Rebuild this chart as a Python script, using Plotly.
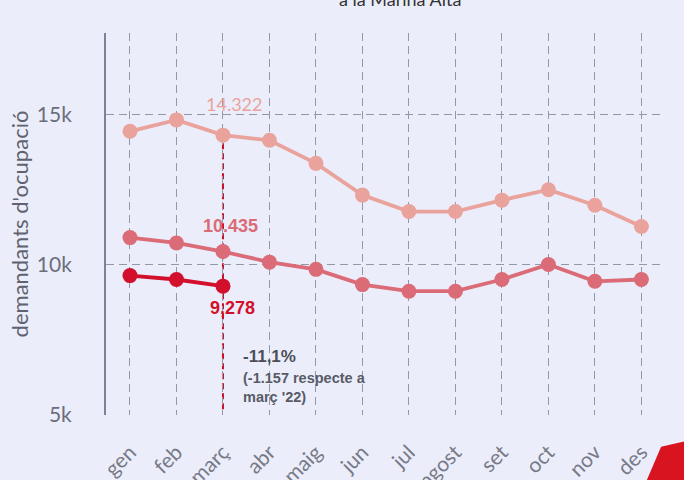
import plotly.graph_objects as go

months = ["gen", "feb", "març", "abr", "maig", "jun", "jul", "agost", "set", "oct", "nov", "des"]
y2021 = [14450, 14830, 14322, 14150, 13380, 12320, 11770, 11770, 12150, 12500, 11980, 11270]
y2022 = [10900, 10720, 10435, 10080, 9840, 9330, 9110, 9110, 9500, 10000, 9440, 9500]
y2023 = [9630, 9500, 9278]
y_ticks = [5000, 10000, 15000]
y_tick_labels = ["5k", "10k", "15k"]

c21 = "#eaa39c"
c22 = "#db6b77"
c23 = "#d2102b"
bg = "#ebedfa"
grid = "#9398a8"

fig = go.Figure()
for name, ys, col in [("2021", y2021, c21), ("2022", y2022, c22), ("2023", y2023, c23)]:
    fig.add_trace(go.Scatter(
        x=months[:len(ys)], y=ys, mode="lines+markers", name=name,
        line=dict(color=col, width=3.8),
        marker=dict(color=col, size=15),
        hoverinfo="skip",
    ))

# vertical dashed marker line at març
fig.add_shape(type="line", xref="x", yref="y", x0=2, x1=2, y0=5170, y1=y2021[2],
              line=dict(color="#c80e2a", width=2, dash="6px,4px"), layer="below")

fig.add_annotation(x=2, y=y2021[2], text="14.322", showarrow=False, xshift=11, yshift=31,
                   font=dict(family="Lato", size=18, color=c21))
fig.add_annotation(x=2, y=y2022[2], text="<b>10.435</b>", showarrow=False, xshift=8, yshift=26,
                   font=dict(family="Arial", size=18, color=c22))
fig.add_annotation(x=2, y=y2023[2], text="<b>9,278</b>", showarrow=False, xshift=10, yshift=-22,
                   font=dict(family="Arial", size=18, color=c23))
fig.add_annotation(x=2, y=6930, text="<b>-11,1%</b>", showarrow=False, xanchor="left", yanchor="middle",
                   xshift=18, font=dict(family="Arial", size=17, color="#4b4d57"))
fig.add_annotation(x=2, y=5910, text="<b>(-1.157 respecte a<br>març '22)</b>", showarrow=False,
                   xanchor="left", yanchor="middle", align="left", xshift=18,
                   font=dict(family="Arial", size=14.5, color="#585b66"))

# red decoration bottom right
fig.add_shape(type="path", xref="paper", yref="paper",
              path="M 0.9675 -0.2 L 1.002 -0.083 L 1.06 -0.064 L 1.06 -0.2 Z",
              fillcolor="#d7141f", line=dict(width=0))

fig.update_layout(
    width=684, height=480,
    margin=dict(l=106, r=24, t=33, b=65),
    paper_bgcolor=bg, plot_bgcolor=bg,
    showlegend=False,
    font=dict(family="Lato", color="#6b6e7a"),
    title=dict(text="a la Marina Alta", x=0.585, xanchor="center", xref="container",
               y=1, yanchor="middle", yref="container",
               font=dict(family="Lato", size=18, color="#333333")),
    xaxis=dict(
        range=[-0.516, 11.4], tickangle=-45, automargin=False,
        tickfont=dict(size=21, color="#777a86"),
        showgrid=True, gridcolor=grid, griddash="8px,5px", gridwidth=1.4,
        showline=False, zeroline=False, ticks="", ticklabelstandoff=20,
    ),
    yaxis=dict(
        range=[4975, 17733], tickvals=y_ticks, ticktext=y_tick_labels, automargin=False,
        tickfont=dict(size=21, color="#6b6e7a"),
        title=dict(text="demandants d'ocupació", font=dict(size=22, color="#5f6270"), standoff=2),
        showgrid=True, gridcolor=grid, griddash="8px,5px", gridwidth=1.4,
        showline=True, linecolor="#7d8294", linewidth=2,
        zeroline=False, ticks="", ticklabelstandoff=28,
    ),
)

fig.write_html("out.html", config={"displayModeBar": False},
               post_script="document.body.style.margin='0';document.body.style.background='#ebedfa';")
